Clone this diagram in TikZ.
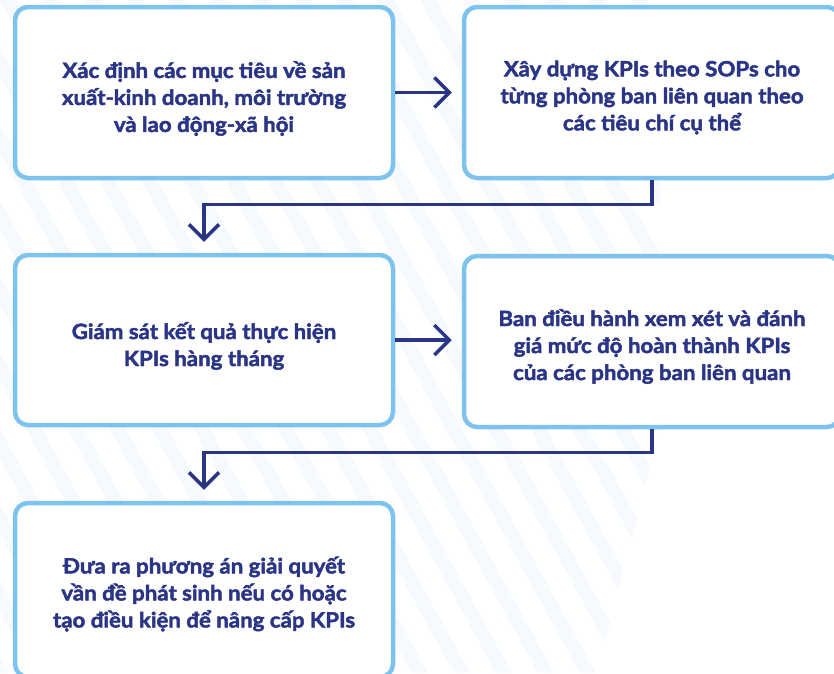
\documentclass[tikz,border=0pt]{standalone}
\usepackage{fontspec}
\setmainfont{Lato}[BoldFeatures={FakeStretch=1.06,FakeBold=2.2}]
\usetikzlibrary{arrows.meta}
\definecolor{boxblue}{HTML}{7DC3EE}
\definecolor{navy}{HTML}{2B3585}
\definecolor{stripe}{HTML}{F6FAFE}
\tikzset{
  stepbox/.style={draw=boxblue, line width=4.5pt, fill=white, rounded corners=13pt,
    minimum width=378pt, minimum height=171pt, inner sep=0pt},
  steptext/.style={text=navy, font=\fontsize{21}{27}\selectfont\bfseries, align=center, inner sep=0pt},
  conn/.style={draw=navy, line width=3.5pt,
    -{Straight Barb[length=15pt,width=30pt]}, line join=miter}
}
\begin{document}
\begin{tikzpicture}[x=1pt,y=-1pt]
\useasboundingbox (0,0) rectangle (834,673);
\clip (0,0) rectangle (834,673);
\begin{scope}
  \clip (0,0) -- (660,0) -- (660,430) -- (597,673) -- (0,673) -- cycle;
  \foreach \x in {-420,-378,...,700} {
    \fill[stripe] (\x,0) -- ++(16,0) -- ++(370,673) -- ++(-16,0) -- cycle;
  }
\end{scope}
\node[stepbox] (b1) at (204,92.5) {};
\node[stepbox, minimum width=376pt] (b2) at (652,92.5) {};
\node[stepbox, minimum height=170pt] (b3) at (204,340) {};
\node[stepbox, minimum width=376pt] (b4) at (652,341.5) {};
\node[stepbox, minimum height=174pt] (b5) at (204,590) {};
\node[steptext] (t1) at ([yshift=-6pt]b1.center) {Xác định các mục tiêu về sản\\xuất-kinh doanh, môi trường\\và lao động-xã hội};
\node[steptext] (t2) at ([yshift=-5pt]b2.center) {Xây dựng KPIs theo SOPs cho\\từng phòng ban liên quan theo\\các tiêu chí cụ thể};
\node[steptext] (t3) at ([yshift=-6pt]b3.center) {Giám sát kết quả thực hiện\\KPIs hàng tháng};
\node[steptext] (t4) at ([yshift=-5pt]b4.center) {Ban điều hành xem xét và đánh\\giá mức độ hoàn thành KPIs\\của các phòng ban liên quan};
\node[steptext] (t5) at ([yshift=-4pt]b5.center) {Đưa ra phương án giải quyết\\vần đề phát sinh nếu có hoặc\\tạo điều kiện để nâng cấp KPIs};
\draw[conn, shorten >=10pt] (b1.east) -- (b2.west);
\draw[conn, shorten >=10pt] (b3.east) -- (b4.west |- b3.east);
\draw[conn, shorten >=11pt] (b2.south) -- ++(0,24) -| (b3.north);
\draw[conn, shorten >=11pt] (b4.south) -- ++(0,23) -| (b5.north);
\end{tikzpicture}
\end{document}
